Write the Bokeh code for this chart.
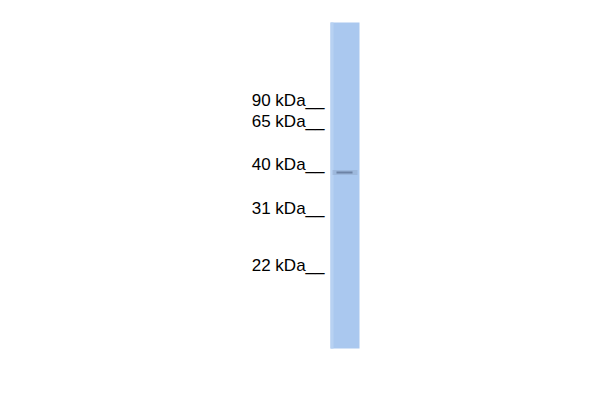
from bokeh.plotting import figure
from bokeh.models import Range1d, ColumnDataSource
from bokeh.core.properties import value
from bokeh.embed import file_html
from bokeh.resources import INLINE

# Molecular weight markers (labels) and their positions along the lane (page px)
markers = ["90 kDa__", "65 kDa__", "40 kDa__", "31 kDa__", "22 kDa__"]
marker_y = [100, 121, 164, 208, 265]

# Lane extent (page px)
lane_x = [330, 359]
lane_y = [22, 348]

# Detected band
band_y = [172]
band_x = [332, 357]

p = figure(width=584, height=384, output_backend="svg", toolbar_location=None,
           x_range=Range1d(0, 584), y_range=Range1d(384, 0), min_border=0)
p.axis.visible = False
p.grid.visible = False
p.outline_line_color = None
p.background_fill_color = "white"
p.border_fill_color = "white"

# lane
p.quad(left=[lane_x[0]], right=[lane_x[1]], top=[lane_y[0]], bottom=[lane_y[1]],
       fill_color="#aac8ef", line_color=None)
p.quad(left=[lane_x[0]], right=[lane_x[0] + 3], top=[lane_y[0]], bottom=[lane_y[1]],
       fill_color="#b7d1f2", line_color=None)

# band
p.quad(left=[band_x[0]], right=[band_x[1]], top=[band_y[0] - 2.5], bottom=[band_y[0] + 2.5],
       fill_color="#8da3c6", fill_alpha=0.45, line_color=None)
p.quad(left=[band_x[0] + 4], right=[band_x[1] - 5], top=[band_y[0] - 1.0], bottom=[band_y[0] + 1.0],
       fill_color="#5e7193", fill_alpha=0.75, line_color=None)

src = ColumnDataSource(dict(x=[324] * len(markers), y=marker_y, t=markers))
p.text(x="x", y="y", text="t", source=src, text_align="right", text_baseline="alphabetic",
       text_font=value("Liberation Sans"), text_font_size="17px", text_color="#000000")

open("out.html", "w").write(file_html(p, INLINE))
